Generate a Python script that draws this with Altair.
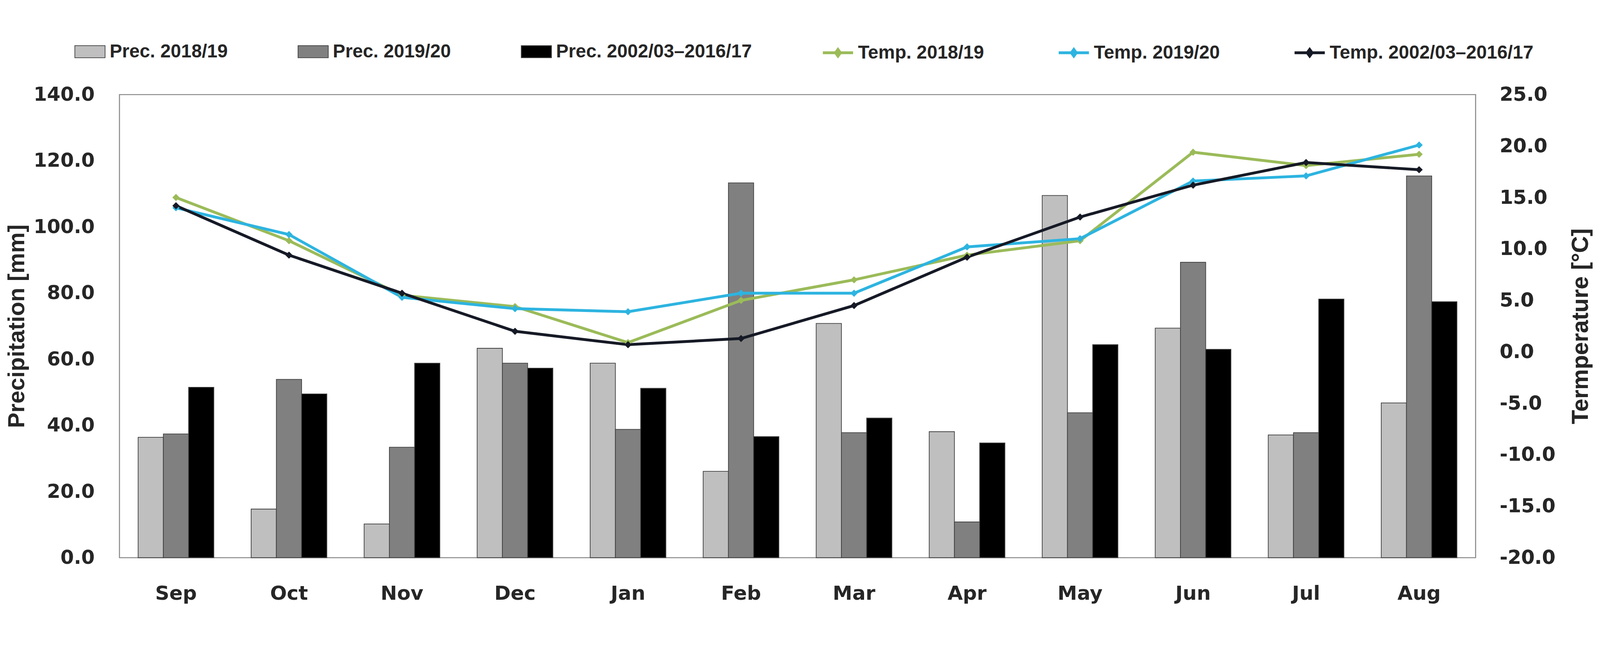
import altair as alt
import pandas as pd

months = ["Sep", "Oct", "Nov", "Dec", "Jan", "Feb", "Mar", "Apr", "May", "Jun", "Jul", "Aug"]

prec_series = ["Prec. 2018/19", "Prec. 2019/20", "Prec. 2002/03\u20132016/17"]
prec_1819 = [36.4, 14.7, 10.2, 63.3, 58.8, 26.1, 70.8, 38.1, 109.5, 69.4, 37.1, 46.8]
prec_1920 = [37.4, 53.9, 33.4, 58.8, 38.8, 113.3, 37.8, 10.8, 43.8, 89.3, 37.8, 115.4]
prec_avg = [51.5, 49.5, 58.8, 57.3, 51.2, 36.6, 42.2, 34.7, 64.4, 63.0, 78.2, 77.4]

temp_series = ["Temp. 2018/19", "Temp. 2019/20", "Temp. 2002/03\u20132016/17"]
temp_1819 = [15.0, 10.8, 5.5, 4.4, 0.9, 5.0, 7.0, 9.4, 10.8, 19.4, 18.1, 19.2]
temp_1920 = [14.0, 11.4, 5.3, 4.2, 3.9, 5.7, 5.7, 10.2, 11.0, 16.6, 17.1, 20.1]
temp_avg = [14.2, 9.4, 5.7, 2.0, 0.7, 1.3, 4.5, 9.2, 13.1, 16.2, 18.4, 17.7]

prec_colors = ["#BFBFBF", "#808080", "#000000"]
temp_colors = ["#9BBB59", "#2DB4E0", "#161A26"]

prec_rows = []
for s, vals in zip(prec_series, [prec_1819, prec_1920, prec_avg]):
    for m, v in zip(months, vals):
        prec_rows.append({"month": m, "series": s, "value": v})
prec_df = pd.DataFrame(prec_rows)

temp_rows = []
for s, vals in zip(temp_series, [temp_1819, temp_1920, temp_avg]):
    for m, v in zip(months, vals):
        temp_rows.append({"month": m, "series": s, "value": v})
temp_df = pd.DataFrame(temp_rows)

TICK_FONT = "DejaVu Sans"
TITLE_FONT = "Liberation Sans"
TXT = "#262626"

x_scale = alt.Scale(domain=months, paddingInner=0.33, paddingOuter=0.165)
x_axis = alt.Axis(
    title=None, labelAngle=0, labelFont=TICK_FONT, labelFontSize=56,
    labelFontWeight="bold", labelColor=TXT, labelPadding=75,
    ticks=False, domain=False, grid=False,
)

bars = alt.Chart(prec_df).mark_bar(stroke="#404040", strokeWidth=2).encode(
    x=alt.X("month:N", scale=x_scale, axis=x_axis, sort=months),
    xOffset=alt.XOffset("series:N", sort=prec_series, scale=alt.Scale(domain=prec_series, paddingInner=0)),
    y=alt.Y(
        "value:Q",
        scale=alt.Scale(domain=[0, 140], nice=False),
        axis=alt.Axis(
            title="Precipitation [mm]", values=[0, 20, 40, 60, 80, 100, 120, 140],
            format=".1f", labelFont=TICK_FONT, labelFontSize=55, labelFontWeight="bold",
            labelColor=TXT, labelPadding=71, ticks=False, domain=False, grid=False,
            titleFont=TITLE_FONT, titleFontSize=66, titleFontWeight="bold", titleColor=TXT,
            titleX=-257, titleY=659, titleAngle=270, titleBaseline="bottom", titleAlign="center",
        ),
    ),
    fill=alt.Fill(
        "series:N", sort=prec_series,
        scale=alt.Scale(domain=prec_series, range=prec_colors),
        legend=alt.Legend(
            title=None, orient="none", legendX=-128, legendY=-166, direction="horizontal",
            symbolType="M-1,-0.4L1,-0.4L1,0.4L-1,0.4Z", symbolSize=7396,
            symbolStrokeColor="#404040", symbolStrokeWidth=2,
            labelFont=TITLE_FONT, labelFontSize=53, labelFontWeight="bold", labelColor=TXT,
            labelOffset=12, columnPadding=196, padding=0, labelLimit=1000,
        ),
    ),
)

temp_y = alt.Y(
    "value:Q",
    scale=alt.Scale(domain=[-20, 25], nice=False),
    axis=alt.Axis(
        orient="right", title="Termperature [\u00b0C]",
        values=[-20, -15, -10, -5, 0, 5, 10, 15, 20, 25],
        labelExpr="datum.value < 0 ? '-' + format(-datum.value, '.1f') : format(datum.value, '.1f')",
        labelFont=TICK_FONT, labelFontSize=55, labelFontWeight="bold",
        labelColor=TXT, labelPadding=68, ticks=False, domain=False, grid=False,
        titleFont=TITLE_FONT, titleFontSize=66, titleFontWeight="bold", titleColor=TXT,
        titleX=267, titleY=659, titleAngle=270, titleBaseline="top", titleAlign="center",
    ),
)

temp_color = alt.Color(
    "series:N", sort=temp_series,
    scale=alt.Scale(domain=temp_series, range=temp_colors),
    legend=alt.Legend(
        title=None, orient="none", legendX=1997, legendY=-166, direction="horizontal",
        symbolType="M-1,0L1,0M-0.16,0L0,-0.22L0.16,0L0,0.22Z", symbolSize=7396,
        symbolStrokeWidth=8,
        labelFont=TITLE_FONT, labelFontSize=53, labelFontWeight="bold", labelColor=TXT,
        labelOffset=10, columnPadding=196, padding=0, labelLimit=1000,
    ),
)

lines = alt.Chart(temp_df).mark_line(strokeWidth=8).encode(
    x=alt.X("month:N", scale=x_scale, axis=x_axis, sort=months),
    y=temp_y,
    color=temp_color,
)
points = alt.Chart(temp_df).mark_point(shape="diamond", filled=True, size=420, opacity=1).encode(
    x=alt.X("month:N", scale=x_scale, axis=x_axis, sort=months),
    y=temp_y,
    color=temp_color,
)

chart = alt.layer(bars, lines, points).resolve_scale(y="independent").properties(
    width=3858, height=1318,
    autosize=alt.AutoSizeParams(type="none"),
    padding={"left": 331, "top": 169, "right": 345, "bottom": 154},
    background="white",
).configure_view(stroke="#8C8C8C", strokeWidth=3, fill="white")

chart.save("out.html", embed_options={"renderer": "svg", "actions": False})
